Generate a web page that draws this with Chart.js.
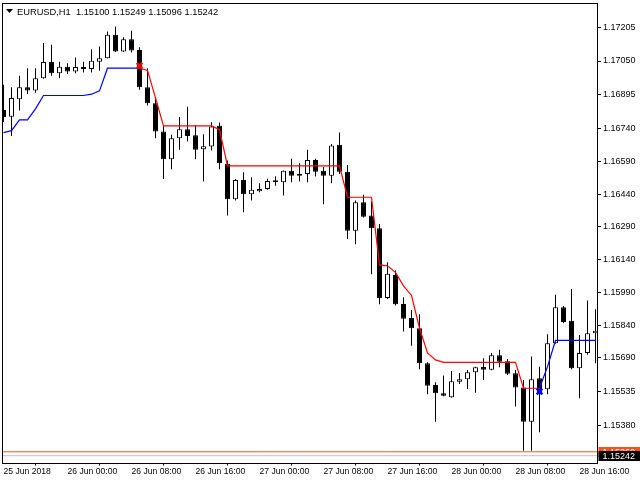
<!DOCTYPE html>
<html><head><meta charset="utf-8">
<script src="https://cdn.jsdelivr.net/npm/chart.js@4/dist/chart.umd.min.js"></script>
<style>html,body{margin:0;padding:0;background:#fff;overflow:hidden}</style>
</head><body>
<canvas id="c" width="640" height="480" style="width:640px;height:480px;display:block"></canvas>
<script>
const headerText = 'EURUSD,H1  1.15100 1.15249 1.15096 1.15242';
const timeLabels = ['25 Jun 2018','26 Jun 00:00','26 Jun 08:00','26 Jun 16:00','27 Jun 00:00','27 Jun 08:00','27 Jun 16:00','28 Jun 00:00','28 Jun 08:00','28 Jun 16:00'];
const timeTickIdx = [0,8,16,24,32,40,48,56,64,72];
const priceTicks = [1.17205,1.17050,1.16895,1.16740,1.16590,1.16440,1.16290,1.16140,1.15990,1.15840,1.15690,1.15535,1.15380];
const bidPrice = 1.15242;
const askPrice = 1.15260;

const opens = [1.16826,1.16795,1.16875,1.16930,1.16915,1.16971,1.17045,1.16994,1.17024,1.17002,
1.17022,1.17013,1.17047,1.17063,1.17170,1.17093,1.17150,1.17101,1.16930,1.16857,
1.16727,1.16600,1.16696,1.16738,1.16710,1.16646,1.16658,1.16753,1.16579,1.16417,
1.16505,1.16440,1.16454,1.16464,1.16502,1.16495,1.16547,1.16533,1.16532,1.16597,
1.16547,1.16525,1.16666,1.16543,1.16273,1.16403,1.16342,1.16284,1.15964,1.16070,
1.15937,1.15873,1.15826,1.15666,1.15566,1.15528,1.15510,1.15581,1.15592,1.15624,
1.15649,1.15636,1.15702,1.15675,1.15620,1.15554,1.15398,1.15597,1.15547,1.15757,
1.15922,1.15860,1.15643,1.15712,1.15803];
const highs = [1.16941,1.16930,1.16982,1.17017,1.17017,1.17132,1.17124,1.17047,1.17040,1.17066,
1.17047,1.17104,1.17116,1.17185,1.17208,1.17159,1.17189,1.17113,1.17017,1.16884,
1.16757,1.16712,1.16793,1.16841,1.16757,1.16715,1.16770,1.16768,1.16594,1.16510,
1.16541,1.16518,1.16490,1.16511,1.16522,1.16549,1.16602,1.16582,1.16643,1.16602,
1.16564,1.16670,1.16722,1.16574,1.16411,1.16437,1.16406,1.16304,1.16128,1.16090,
1.15968,1.15910,1.15890,1.15670,1.15579,1.15609,1.15630,1.15621,1.15635,1.15650,
1.15689,1.15712,1.15727,1.15685,1.15635,1.15589,1.15696,1.15650,1.15799,1.15979,
1.15928,1.16006,1.15795,1.15953,1.15913];
const lows = [1.16771,1.16707,1.16823,1.16899,1.16905,1.16969,1.16983,1.16971,1.16991,1.16994,
1.16997,1.16997,1.17005,1.17061,1.17091,1.17091,1.17089,1.16918,1.16846,1.16696,
1.16509,1.16554,1.16643,1.16681,1.16600,1.16498,1.16640,1.16554,1.16342,1.16411,
1.16357,1.16411,1.16449,1.16460,1.16479,1.16434,1.16495,1.16498,1.16495,1.16521,
1.16394,1.16490,1.16532,1.16235,1.16211,1.16333,1.16073,1.15936,1.15960,1.15930,
1.15811,1.15746,1.15638,1.15524,1.15398,1.15515,1.15508,1.15570,1.15548,1.15531,
1.15589,1.15634,1.15647,1.15612,1.15467,1.15265,1.15265,1.15350,1.15524,1.15755,
1.15849,1.15638,1.15505,1.15704,1.15666];
const closes = [1.16794,1.16880,1.16930,1.16915,1.16971,1.17045,1.16994,1.17024,1.17002,1.17022,
1.17013,1.17051,1.17063,1.17170,1.17093,1.17150,1.17098,1.16930,1.16857,1.16727,
1.16600,1.16696,1.16738,1.16707,1.16643,1.16660,1.16750,1.16582,1.16417,1.16505,
1.16440,1.16460,1.16464,1.16500,1.16495,1.16547,1.16525,1.16525,1.16597,1.16543,
1.16525,1.16663,1.16543,1.16273,1.16403,1.16337,1.16284,1.15964,1.16075,1.15936,
1.15870,1.15826,1.15666,1.15563,1.15528,1.15517,1.15583,1.15592,1.15624,1.15647,
1.15636,1.15702,1.15673,1.15617,1.15554,1.15398,1.15592,1.15528,1.15757,1.15922,
1.15854,1.15643,1.15712,1.15803,1.15815];
const stopBlue = [1.16722,1.16731,1.16780,1.16780,1.16831,1.16892,1.16892,1.16892,1.16892,1.16892,
1.16892,1.16898,1.16913,1.17017,1.17017,1.17017,1.17017,1.17017,null,null,
null,null,null,null,null,null,null,null,null,null,
null,null,null,null,null,null,null,null,null,null,
null,null,null,null,null,null,null,null,null,null,
null,null,null,null,null,null,null,null,null,null,
null,null,null,null,null,null,null,1.15551,1.15650,1.15770,
1.15770,1.15770,1.15770,1.15770,1.15770];
const stopRed = [null,null,null,null,null,null,null,null,null,null,
null,null,null,null,null,null,null,1.17017,1.17007,1.16881,
1.16753,1.16753,1.16753,1.16753,1.16753,1.16753,1.16753,1.16735,1.16570,1.16570,
1.16570,1.16570,1.16570,1.16570,1.16570,1.16570,1.16570,1.16570,1.16570,1.16570,
1.16570,1.16570,1.16570,1.16426,1.16426,1.16426,1.16426,1.16116,1.16112,1.16082,
1.16020,1.15976,1.15827,1.15713,1.15681,1.15670,1.15670,1.15670,1.15670,1.15670,
1.15670,1.15670,1.15670,1.15670,1.15670,1.15551,1.15551,1.15551,null,null,
null,null,null,null,null];
const sellSignal = [{x:17, y:1.17028}];
const buySignal = [{x:67, y:1.15536}];

const X_MIN = -0.1875, X_MAX = 74.1875;
const FAM = '"Liberation Sans", Arial, sans-serif';
const idx = opens.map((_, i) => i);

const wickData = idx.map(i => ({x: i, y: [lows[i], highs[i]]}));
const bodyData = idx.map(i => ({x: i, y: [opens[i], closes[i]]}));
const blueData = idx.map(i => ({x: i, y: stopBlue[i]}));
const redData = idx.map(i => ({x: i, y: stopRed[i]}));

const overlay = {
  id: 'overlay',
  afterDraw(chart) {
    const {ctx, chartArea: a, scales} = chart;
    const y = scales.y;
    ctx.save();
    ctx.strokeStyle = '#000';
    ctx.lineWidth = 1;
    const L = Math.round(a.left) + 0.5, T = Math.round(a.top) + 0.5;
    const R = Math.round(a.right) + 0.5, B = Math.round(a.bottom) + 0.5;
    ctx.strokeRect(L, T, R - L, B - T);
    ctx.fillStyle = '#000';
    ctx.beginPath(); ctx.moveTo(6, 9); ctx.lineTo(13, 9); ctx.lineTo(9.5, 13); ctx.closePath(); ctx.fill();
    ctx.font = '9.3px ' + FAM;
    ctx.textBaseline = 'alphabetic';
    ctx.textAlign = 'left';
    ctx.fillText(headerText, 17, 14.5);
    const drawLabel = (price, bg) => {
      const py = Math.round(y.getPixelForValue(price));
      ctx.fillStyle = bg;
      ctx.fillRect(R + 1, py - 5, 640 - R, 10);
      ctx.fillStyle = '#fff';
      ctx.font = '9px ' + FAM;
      ctx.textBaseline = 'middle';
      ctx.fillText(price.toFixed(5), R + 5, py + 0.5);
    };
    drawLabel(askPrice, '#f4511e');
    drawLabel(bidPrice, '#000');
    ctx.restore();
  }
};

new Chart(document.getElementById('c'), {
  type: 'bar',
  data: {
    datasets: [
      {type: 'line', data: [{x: X_MIN, y: askPrice}, {x: X_MAX, y: askPrice}], borderColor: '#f4511e', borderWidth: 1, pointRadius: 0, order: 5},
      {type: 'line', data: [{x: X_MIN, y: bidPrice}, {x: X_MAX, y: bidPrice}], borderColor: '#c0c0c0', borderWidth: 1, pointRadius: 0, order: 5},
      {type: 'bar', data: wickData, backgroundColor: '#000', borderWidth: 0, barThickness: 1, grouped: false, inflateAmount: 0, order: 4},
      {type: 'bar', data: bodyData, grouped: false, barThickness: 5, inflateAmount: 0, minBarLength: 2,
        borderSkipped: false, borderWidth: 1, borderColor: '#000',
        backgroundColor: c => (closes[c.dataIndex] >= opens[c.dataIndex] ? '#fff' : '#000'), order: 3},
      {type: 'line', data: blueData, borderColor: '#0000ff', borderWidth: 1.2, pointRadius: 0, tension: 0, spanGaps: false, order: 1},
      {type: 'line', data: redData, borderColor: '#ff0000', borderWidth: 1.2, pointRadius: 0, tension: 0, spanGaps: false, order: 1},
      {type: 'line', data: sellSignal, showLine: false, pointStyle: 'crossRot', pointRadius: 4, borderWidth: 2.5, borderColor: '#ff0000', backgroundColor: '#ff0000', order: 0},
      {type: 'line', data: buySignal, showLine: false, pointStyle: 'crossRot', pointRadius: 4, borderWidth: 2.5, borderColor: '#0000ff', backgroundColor: '#0000ff', order: 0}
    ]
  },
  options: {
    responsive: false,
    animation: false,
    devicePixelRatio: 1,
    layout: {autoPadding: false, padding: {left: 2, top: 2.5, right: 0, bottom: 0}},
    plugins: {legend: {display: false}, tooltip: {enabled: false}, title: {display: false}},
    scales: {
      x: {
        type: 'linear', min: X_MIN, max: X_MAX, offset: false,
        afterBuildTicks: s => { s.ticks = timeTickIdx.map(v => ({value: v})); },
        ticks: {autoSkip: false, maxRotation: 0, minRotation: 0, align: 'start', padding: 1, color: '#000',
          font: {size: 8.6, family: FAM}, callback: (v, i) => timeLabels[i]},
        grid: {drawOnChartArea: false, drawTicks: true, tickLength: 3, color: '#000'},
        border: {display: false},
        afterFit: s => { s.height = 17.5; s.paddingLeft = 0; s.paddingRight = 0; }
      },
      y: {
        type: 'linear', position: 'right', min: 1.15211, max: 1.17318,
        afterBuildTicks: s => { s.ticks = priceTicks.map(v => ({value: v})); },
        ticks: {color: '#000', padding: 2, font: {size: 9, family: FAM}, callback: v => Number(v).toFixed(5)},
        grid: {drawOnChartArea: false, drawTicks: true, tickLength: 4, color: '#000'},
        border: {display: false},
        afterFit: s => { s.width = 43; s.paddingTop = 0; s.paddingBottom = 0; }
      }
    }
  },
  plugins: [overlay]
});
</script>
</body></html>
